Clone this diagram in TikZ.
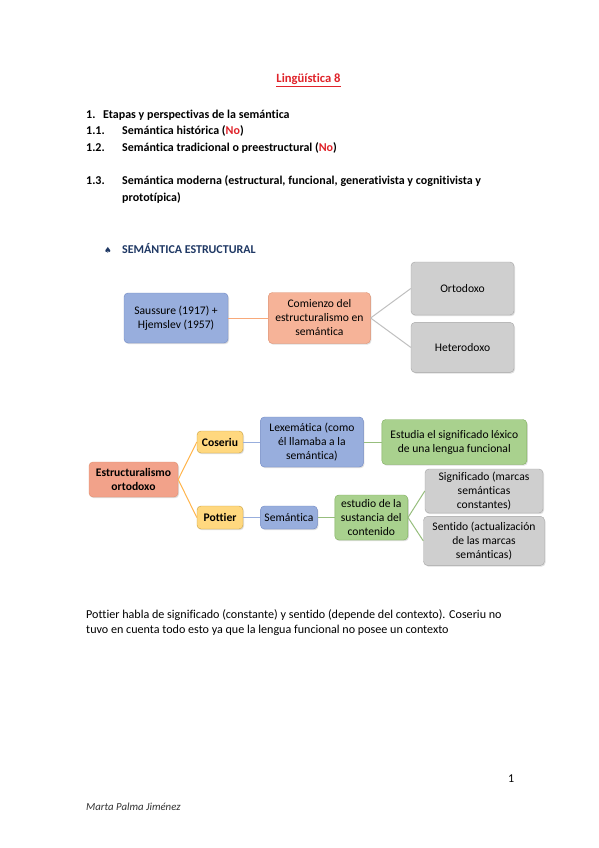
\documentclass[tikz,border=0pt]{standalone}
\usepackage{fontspec}
\setmainfont{Carlito}[Ligatures=NoCommon]
\newfontfamily\symfont{DejaVu Sans}
\usetikzlibrary{positioning, shadows}

\definecolor{titred}{HTML}{E0232A}
\definecolor{headblue}{HTML}{1F3864}
\definecolor{bluefill}{HTML}{98AEDD}
\definecolor{bluedraw}{HTML}{7088C4}
\definecolor{orafill}{HTML}{F6B398}
\definecolor{oradraw}{HTML}{DE8E6C}
\definecolor{salfill}{HTML}{F2A28A}
\definecolor{grayfill}{HTML}{CFCFCF}
\definecolor{graydraw}{HTML}{A5A5A5}
\definecolor{yelfill}{HTML}{FFD87F}
\definecolor{yeldraw}{HTML}{C9A03C}
\definecolor{grnfill}{HTML}{A9D18E}
\definecolor{grndraw}{HTML}{7DAE5C}

\begin{document}
\begin{tikzpicture}[
    x=1pt, y=-1pt,
    font=\fontsize{12}{14}\selectfont,
    txt/.style={anchor=base west, inner sep=0pt},
    box/.style={draw, rounded corners=4pt, align=flush center, inner xsep=2pt, inner ysep=1pt,
                font=\fontsize{11.6}{14}\selectfont,
                drop shadow={opacity=0.25, shadow xshift=1pt, shadow yshift=-1.2pt}},
    blu/.style={box, fill=bluefill, draw=bluedraw},
    ora/.style={box, fill=orafill, draw=oradraw},
    sal/.style={box, fill=salfill, draw=oradraw, font=\fontsize{11.6}{14}\selectfont\bfseries},
    gry/.style={box, fill=grayfill, draw=graydraw},
    yel/.style={box, fill=yelfill, draw=yeldraw, font=\fontsize{11.6}{14}\selectfont\bfseries},
    grn/.style={box, fill=grnfill, draw=grndraw},
    lnk/.style={line width=1pt}
]
\fill[white] (0,0) rectangle (599,848);
\useasboundingbox (0,0) rectangle (599,848);

% ---- Heading and list ----
\node[anchor=base, inner sep=0pt, font=\fontsize{12.6}{15}\selectfont\bfseries, titred]
    (tit) at (308.5,82.7) {\underline{Lingüística 8}};

\begin{scope}[font=\fontsize{12}{14}\selectfont\bfseries]
\node[txt] (n1)  at (86,118)   {1.};
\node[txt] (t1)  at (103,118)  {Etapas y perspectivas de la semántica};
\node[txt] (n11) at (86,134.5) {1.1.};
\node[txt] (t11) at (122,134.5) {Semántica histórica (\textcolor{titred}{No})};
\node[txt] (n12) at (86,151.5) {1.2.};
\node[txt] (t12) at (122,151.5) {Semántica tradicional o preestructural (\textcolor{titred}{No})};
\node[txt] (n13) at (86,184.5) {1.3.};
\node[txt] (t13) at (122,184.5) {Semántica moderna (estructural, funcional, generativista y cognitivista y};
\node[txt] (t13b) at (122,201.5) {prototípica)};
\end{scope}

% ---- Section title ----
\node[txt, headblue, font=\symfont\fontsize{8.5}{9}\selectfont] (bul) at (104,253) {♠};
\node[txt, headblue, font=\fontsize{12}{14}\selectfont\bfseries] (sec) at (122,253.3)
    {SEMÁNTICA ESTRUCTURAL};

% ---- First map ----
\node[blu, minimum width=104pt, minimum height=50pt, text width=98pt] (sau) at (176,318)
    {Saussure (1917) +\\Hjemslev (1957)};
\node[ora, minimum width=102pt, minimum height=51pt, text width=96pt, right=40pt of sau] (com)
    {Comienzo del\\estructuralismo en\\semántica};
\node[gry, minimum width=103pt, minimum height=53pt, text width=97pt] (ort) at (462.5,288.5)
    {Ortodoxo};
\node[gry, minimum width=103pt, minimum height=50pt, text width=97pt, below=7pt of ort] (het)
    {Heterodoxo};

\draw[lnk, orafill!80!orange] (sau) -- (com);
\draw[lnk, graydraw!70] (com.east) -- (ort.west);
\draw[lnk, graydraw!70] (com.east) -- (het.west);

% ---- Second map ----
\node[sal, minimum width=89pt, minimum height=35pt, text width=85pt] (est) at (133.5,479.5)
    {Estructuralismo\\ortodoxo};
\node[yel, minimum width=46pt, minimum height=22pt, text width=42pt] (cos) at (220,442) {Coseriu};
\node[yel, minimum width=46pt, minimum height=23pt, text width=42pt] (pot) at (220,517.5) {Pottier};
\node[blu, minimum width=103pt, minimum height=50pt, text width=97pt, right=17pt of cos] (lex)
    {Lexemática (como\\él llamaba a la\\semántica)};
\node[grn, minimum width=145pt, minimum height=45pt, text width=139pt, right=18pt of lex] (estu)
    {Estudia el significado léxico\\de una lengua funcional};
\node[blu, minimum width=57pt, minimum height=23pt, text width=53pt, right=17pt of pot] (sem)
    {Semántica};
\node[grn, minimum width=73pt, minimum height=45pt, text width=69pt, right=17pt of sem] (sus)
    {estudio de la\\sustancia del\\contenido};
\node[gry, minimum width=118pt, minimum height=44pt, text width=112pt] (sig) at (484,491)
    {Significado (marcas\\semánticas\\constantes)};
\node[gry, minimum width=121pt, minimum height=49pt, text width=115pt, below=3pt of sig] (sen)
    {Sentido (actualización\\de las marcas\\semánticas)};

\draw[lnk, yelfill!60!orange] (est.east) -- (cos.west);
\draw[lnk, yelfill!60!orange] (est.east) -- (pot.west);
\draw[lnk, bluefill] (cos) -- (lex);
\draw[lnk, grndraw!80] (lex) -- (estu);
\draw[lnk, bluefill] (pot) -- (sem);
\draw[lnk, grndraw!80] (sem) -- (sus);
\draw[lnk, grndraw!80] (sus.east) -- (sig.west);
\draw[lnk, grndraw!80] (sus.east) -- (sen.west);

% ---- Closing text ----
\node[txt, font=\fontsize{12.1}{14}\selectfont] (p1) at (86,618)
    {Pottier habla de significado (constante) y sentido (depende del contexto). Coseriu no};
\node[txt, font=\fontsize{12.1}{14}\selectfont] (p2) at (86,633.5)
    {tuvo en cuenta todo esto ya que la lengua funcional no posee un contexto};

\node[txt] (pag) at (508,782.7) {1};
\node[txt, font=\fontsize{10.8}{12}\selectfont\itshape, black!80] (aut) at (86,810) {Marta Palma Jiménez};

\end{tikzpicture}
\end{document}
